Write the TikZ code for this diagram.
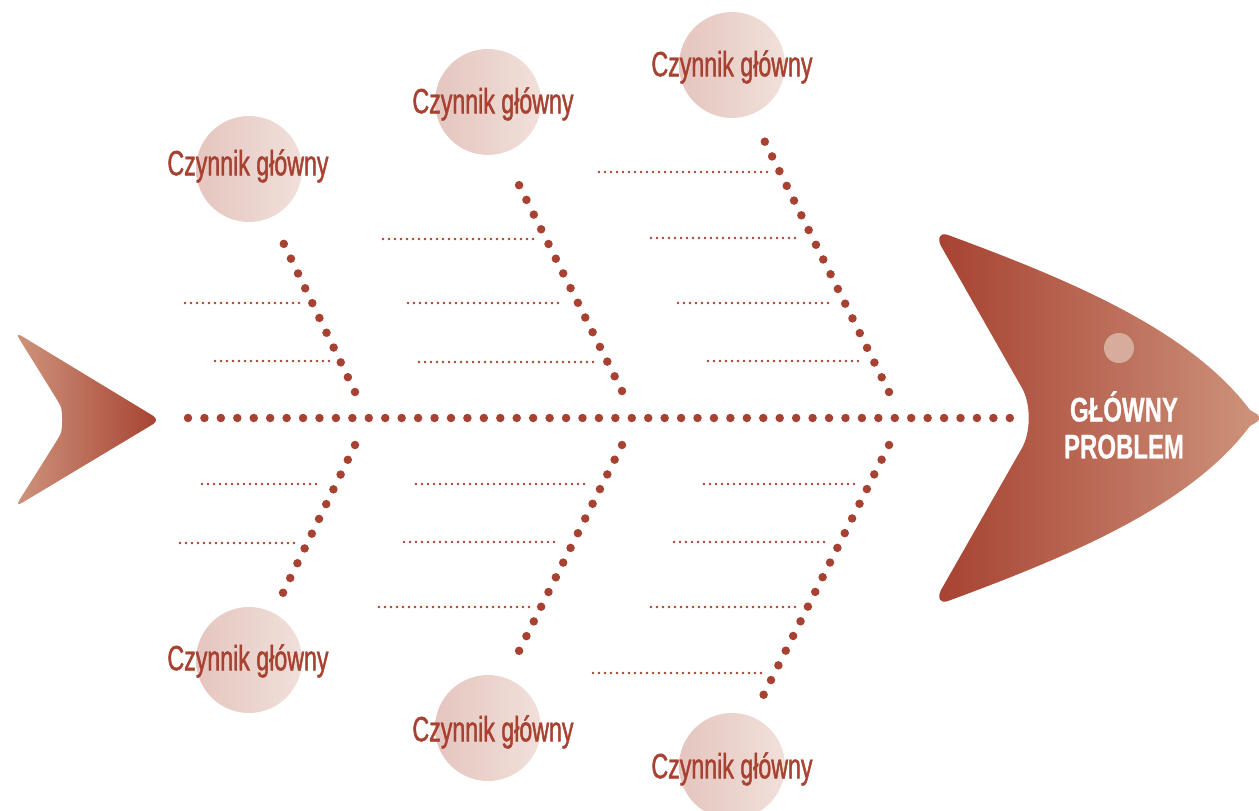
\documentclass[tikz,border=0pt]{standalone}
\usepackage{fontspec}
\newfontfamily\condfont[FakeStretch=0.66,FakeBold=1.2]{Liberation Sans}
\newfontfamily\headfont[FakeStretch=0.70,FakeBold=0.6]{Liberation Sans Bold}
\usetikzlibrary{positioning}
\definecolor{brick}{RGB}{167,66,50}
\definecolor{salmon}{RGB}{206,148,124}
\definecolor{blushL}{RGB}{229,197,191}
\definecolor{blushR}{RGB}{241,224,218}
\definecolor{eyecol}{RGB}{214,172,156}

\begin{document}
\begin{tikzpicture}[x=0.02cm, y=-0.02cm,
  bone/.style={draw=brick, line width=0.17cm, line cap=round, dash pattern=on 0pt off 0.3288cm},
  rib/.style={draw=brick, line width=0.058cm, line cap=round, dash pattern=on 0pt off 0.12cm},
  factor/.style={circle, minimum size=2.12cm, inner sep=0pt, left color=blushL, right color=blushR},
  factortext/.style={font=\condfont\fontsize{20}{24}\selectfont, text=brick, inner sep=0pt},
]
  \useasboundingbox (0,0) rectangle (1259,811);

  % tail
  \shade[left color=salmon, right color=brick, rounded corners=0.16cm]
    (15,332) -- (160,420) -- (15,507) -- (56,442)
    .. controls (63,430) and (63,410) .. (56,398) -- cycle;

  % head
  \shade[left color=brick, right color=salmon]
    (948,235) .. controls (1070,280) and (1190,330) .. (1250,410)
    .. controls (1264,418) .. (1250,426)
    .. controls (1190,506) and (1070,556) .. (948,601)
    .. controls (940,604) and (937,598) .. (941,590)
    -- (1022,448) .. controls (1031,432) and (1031,404) .. (1022,388)
    -- (941,246) .. controls (937,238) and (940,232) .. (948,235) -- cycle;
  \node[circle, minimum size=0.6cm, inner sep=0pt, fill=eyecol] (eye) at (1119,348) {};
  \node[font=\headfont\fontsize{19.5}{21}\selectfont, text=white, align=center, inner sep=0pt]
    (problem) at (1124,425) {GŁÓWNY\\PROBLEM};

  % spine
  \coordinate (s0) at (188,418);
  \coordinate (s1) at (1010,418);
  \draw[bone] (s0) -- (s1);

  % bones
  \foreach \n/\xa/\ya/\xb/\yb in {u1/355/392/281/238, u2/622/391/514/175, u3/889/392/761/134,
                                  d1/355/445/281/597, d2/622/445/514/661, d3/889/445/760/702} {
    \coordinate (\n a) at (\xa,\ya);
    \coordinate (\n b) at (\xb,\yb);
    \draw[bone] (\n a) -- (\n b);
  }

  % ribs
  \foreach \y/\xa/\xb in {303/185/300, 361/215/332,
                          239/383/535, 303/408/562, 362/419/593,
                          172/599/768, 238/651/798, 303/678/833, 361/708/863,
                          484/202/317, 543/180/295,
                          484/416/589, 542/404/558, 607/379/533,
                          484/704/858, 542/674/828, 607/651/798, 673/593/763}
    \draw[rib] (\xa,\y) -- (\xb,\y);

  % factors
  \foreach \n/\cx/\cy/\tx/\ty in {u1/249/169/248/166, u2/488/102/493/104, u3/732/65/732/67,
                                  d1/249/660/248/661, d2/488/728/493/732, d3/732/766/732/769} {
    \node[factor] (c\n) at (\cx,\cy) {};
    \node[factortext] (l\n) at (\tx,\ty) {Czynnik główny};
  }
\end{tikzpicture}
\end{document}
